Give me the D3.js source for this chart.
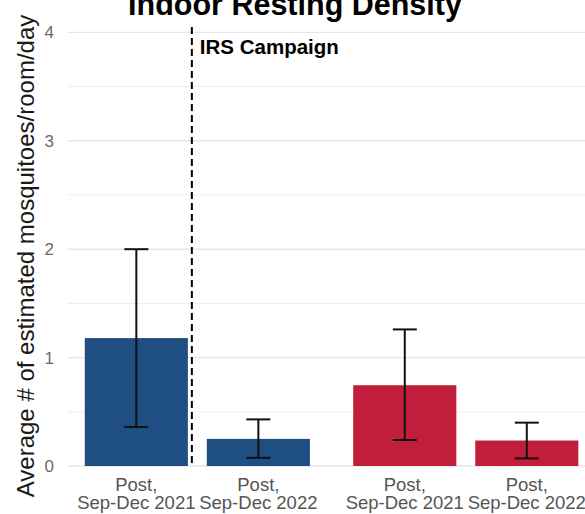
<!DOCTYPE html>
<html lang="en">
<head>
  <title>Indoor Resting Density</title>
  <meta charset="utf-8">
  <script src="https://d3js.org/d3.v7.min.js"></script>
  <style>
    body { margin: 0; background: #fff; }
    text { font-family: "Liberation Sans", Arial, sans-serif; }
  </style>
</head>
<body>
<div class="chart"></div>

<script type="text/javascript">

// data
var periodLine1 = ["Post,", "Post,", "Post,", "Post,"];
var periodLine2 = ["Sep-Dec 2021", "Sep-Dec 2022", "Sep-Dec 2021", "Sep-Dec 2022"];
var armGroup = ["A", "A", "B", "B"];
var xPos = [1, 2, 3.2, 4.2];
var means = [1.18, 0.25, 0.745, 0.235];
var lower = [0.36, 0.075, 0.24, 0.07];
var upper = [2.0, 0.43, 1.26, 0.40];
var yTicks = [0, 1, 2, 3, 4];
var campaignAt = 1.455;

var data = xPos.map(function(x, i) {
  return { x: x, mean: means[i], lo: lower[i], hi: upper[i],
           l1: periodLine1[i], l2: periodLine2[i], g: armGroup[i] };
});

var width = 585, height = 514;

var svg = d3.select(".chart").append("svg")
    .attr("width", width)
    .attr("height", height);

var x = d3.scaleLinear().domain([0.44, 4.8]).range([68, 600]);
var y = d3.scaleLinear().domain([0, 4]).range([466, 32.4]);
var colour = d3.scaleOrdinal().domain(["A", "B"]).range(["#1f4e82", "#c11e3b"]);
var barW = 0.845;

// grid
var minor = d3.range(0.5, 4, 1);
svg.selectAll(".minor").data(minor).enter().append("line")
    .attr("x1", x.range()[0]).attr("x2", width)
    .attr("y1", function(d) { return y(d); }).attr("y2", function(d) { return y(d); })
    .attr("stroke", "#ededed").attr("stroke-width", 1);
svg.selectAll(".major").data(yTicks).enter().append("line")
    .attr("x1", x.range()[0]).attr("x2", width)
    .attr("y1", function(d) { return y(d); }).attr("y2", function(d) { return y(d); })
    .attr("stroke", "#e6e6e6").attr("stroke-width", 1.4);

// y tick labels
svg.selectAll(".ytick").data(yTicks).enter().append("text")
    .attr("x", 54)
    .attr("y", function(d) { return y(d); })
    .attr("dy", "0.35em")
    .attr("text-anchor", "end")
    .attr("font-size", 17)
    .attr("fill", "#6a6a6a")
    .text(function(d) { return d; });

// bars
svg.selectAll(".bar").data(data).enter().append("rect")
    .attr("x", function(d) { return x(d.x - barW / 2); })
    .attr("width", function(d) { return x(d.x + barW / 2) - x(d.x - barW / 2); })
    .attr("y", function(d) { return y(d.mean); })
    .attr("height", function(d) { return y(0) - y(d.mean); })
    .attr("fill", function(d) { return colour(d.g); });

// error bars
var cap = 12;
var eb = svg.selectAll(".eb").data(data).enter().append("g")
    .attr("stroke", "#111").attr("stroke-width", 2);
eb.append("line")
    .attr("x1", function(d) { return x(d.x); }).attr("x2", function(d) { return x(d.x); })
    .attr("y1", function(d) { return y(d.lo); }).attr("y2", function(d) { return y(d.hi); });
eb.append("line")
    .attr("x1", function(d) { return x(d.x) - cap; }).attr("x2", function(d) { return x(d.x) + cap; })
    .attr("y1", function(d) { return y(d.hi); }).attr("y2", function(d) { return y(d.hi); });
eb.append("line")
    .attr("x1", function(d) { return x(d.x) - cap; }).attr("x2", function(d) { return x(d.x) + cap; })
    .attr("y1", function(d) { return y(d.lo); }).attr("y2", function(d) { return y(d.lo); });

// IRS campaign line
svg.append("line")
    .attr("x1", x(campaignAt)).attr("x2", x(campaignAt))
    .attr("y1", 27).attr("y2", y(0))
    .attr("stroke", "#000").attr("stroke-width", 2)
    .attr("stroke-dasharray", "7,4");

svg.append("text")
    .attr("x", x(campaignAt) + 8)
    .attr("y", 54)
    .attr("font-size", 20.5)
    .attr("font-weight", "bold")
    .attr("fill", "#000")
    .text("IRS Campaign");

// x labels
var xl = svg.selectAll(".xl").data(data).enter().append("text")
    .attr("text-anchor", "middle")
    .attr("font-size", 18.5)
    .attr("fill", "#555");
xl.append("tspan")
    .attr("x", function(d) { return x(d.x); }).attr("y", 491)
    .text(function(d) { return d.l1; });
xl.append("tspan")
    .attr("x", function(d) { return x(d.x); }).attr("y", 509)
    .text(function(d) { return d.l2; });

// y title
svg.append("text")
    .attr("transform", "translate(34," + 256 + ") rotate(-90)")
    .attr("text-anchor", "middle")
    .attr("font-size", 24)
    .attr("fill", "#1a1a1a")
    .text("Average # of estimated mosquitoes/room/day");

// title
svg.append("text")
    .attr("x", 295)
    .attr("y", 15)
    .attr("text-anchor", "middle")
    .attr("font-size", 30.5)
    .attr("font-weight", "bold")
    .attr("fill", "#000")
    .text("Indoor Resting Density");

</script>
</body>
</html>
